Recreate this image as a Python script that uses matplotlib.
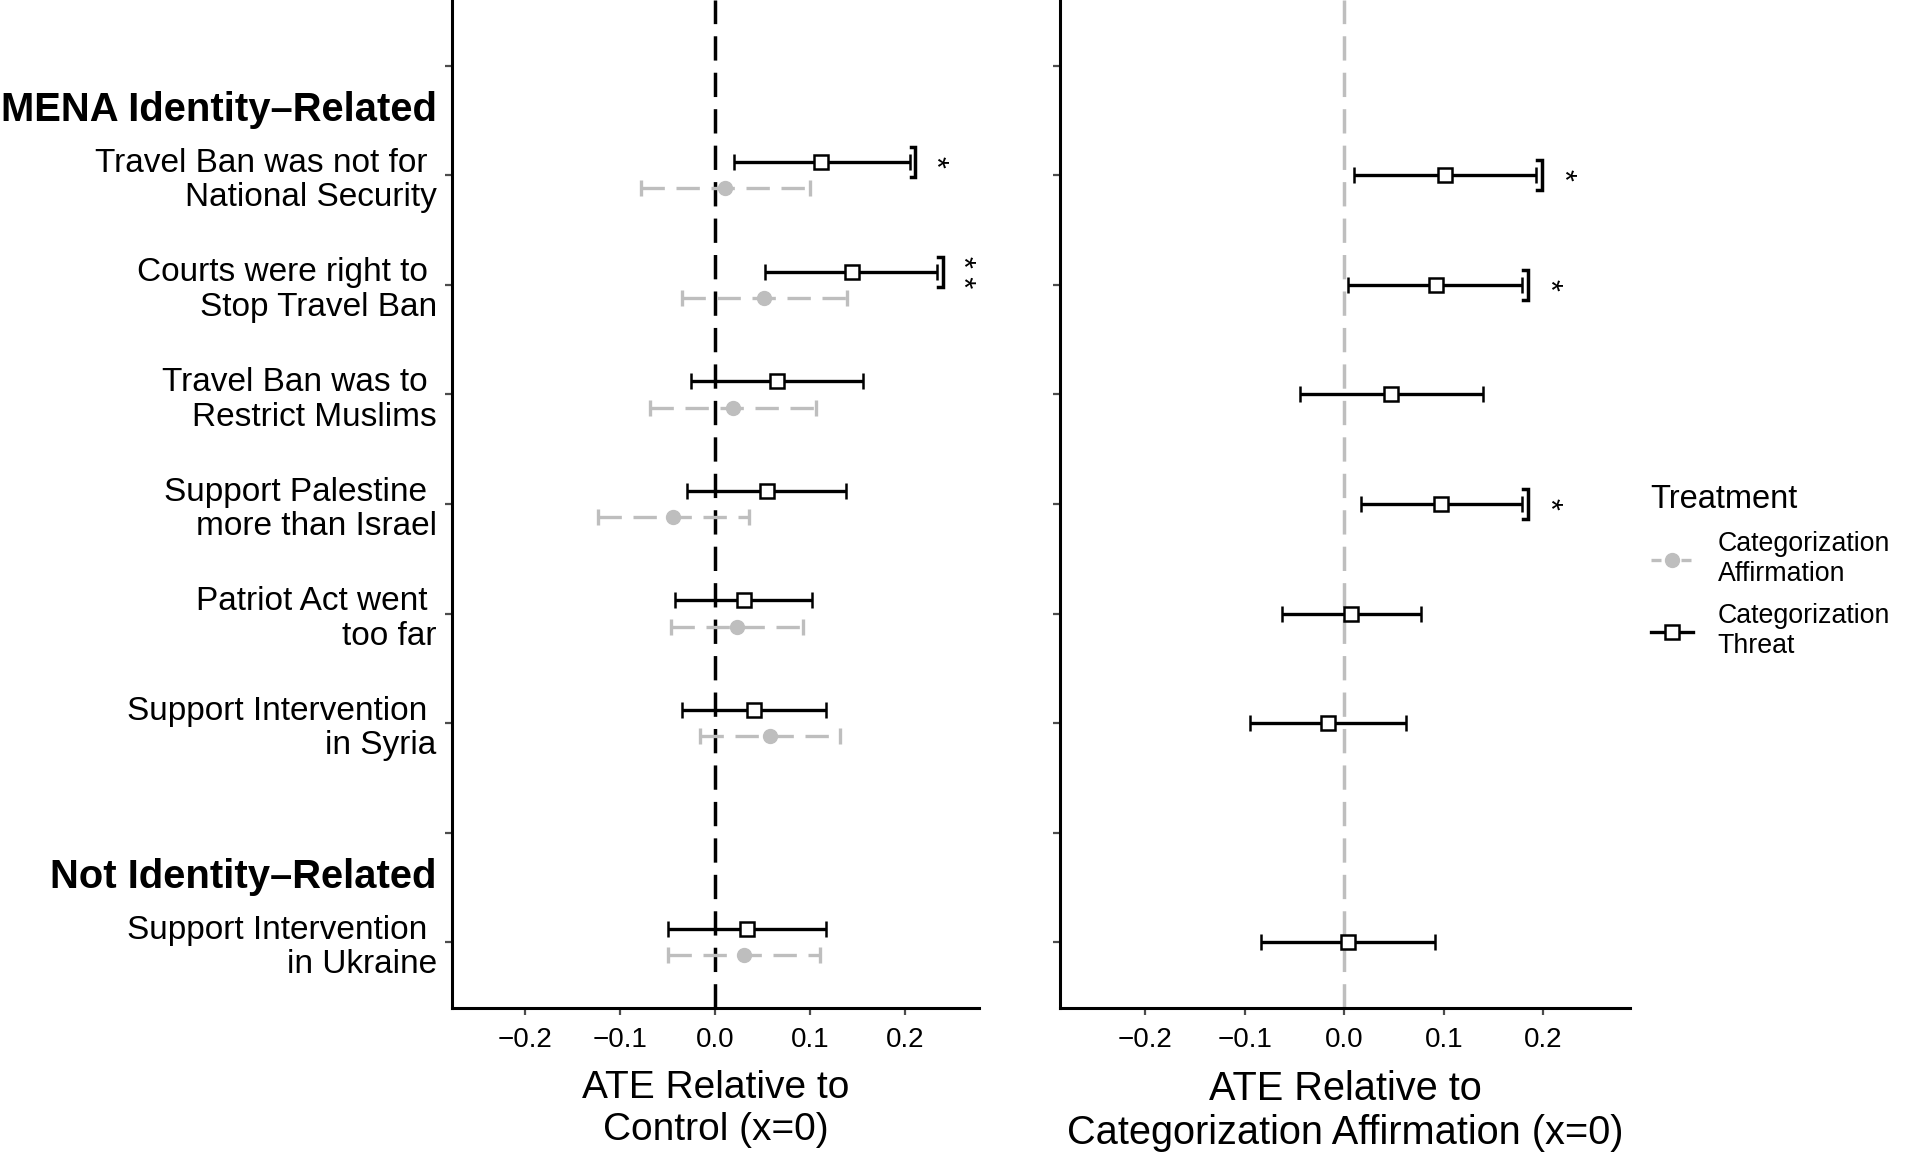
import matplotlib.pyplot as plt
from matplotlib.lines import Line2D

plt.rcParams['font.family'] = ['Liberation Sans', 'DejaVu Sans']

OUTPUT = 'out.png'

outcomes = [
    'Travel Ban was not for \nNational Security',
    'Courts were right to \nStop Travel Ban',
    'Travel Ban was to \nRestrict Muslims',
    'Support Palestine \nmore than Israel',
    'Patriot Act went \ntoo far',
    'Support Intervention \nin Syria',
    'Support Intervention \nin Ukraine',
]
outcome_pos = [8, 7, 6, 5, 4, 3, 1]
headers = ['MENA Identity\u2013Related', 'Not Identity\u2013Related']
header_pos = [9, 2]

# ATE relative to control
affirm_est = [0.011, 0.052, 0.019, -0.044, 0.023, 0.058, 0.030]
affirm_lo = [-0.078, -0.035, -0.068, -0.123, -0.046, -0.016, -0.050]
affirm_hi = [0.100, 0.139, 0.106, 0.036, 0.093, 0.132, 0.111]
threat_est = [0.112, 0.144, 0.065, 0.055, 0.030, 0.041, 0.034]
threat_lo = [0.020, 0.053, -0.025, -0.029, -0.042, -0.035, -0.049]
threat_hi = [0.205, 0.234, 0.156, 0.138, 0.102, 0.117, 0.117]
threat_sig = ['*', '**', '', '', '', '', '']

# threat relative to affirmation
diff_est = [0.101, 0.092, 0.047, 0.097, 0.007, -0.017, 0.004]
diff_lo = [0.010, 0.004, -0.045, 0.017, -0.063, -0.095, -0.084]
diff_hi = [0.193, 0.179, 0.139, 0.179, 0.077, 0.062, 0.091]
diff_sig = ['*', '*', '', '*', '', '', '']

xticks = [-0.2, -0.1, 0.0, 0.1, 0.2]
xtick_labels = ['\u22120.2', '\u22120.1', '0.0', '0.1', '0.2']

GREY = '#bebebe'
DASH = (0, (7, 3.5))
LW = 2.4


def draw_bars(ax, est, lo, hi, y, color, dashed, marker):
    xerr = [[e - l for e, l in zip(est, lo)], [h - e for e, h in zip(est, hi)]]
    if marker == 's':
        mkw = dict(marker='s', markersize=9.5, markerfacecolor='white',
                   markeredgecolor=color, markeredgewidth=1.8)
    else:
        mkw = dict(marker='o', markersize=10, markerfacecolor=color,
                   markeredgecolor=color)
    _, caps, bars = ax.errorbar(est, y, xerr=xerr, linestyle='none',
                                ecolor=color, elinewidth=LW, capsize=6,
                                capthick=LW, zorder=3, **mkw)
    if dashed:
        bars[0].set_linestyle(DASH)


def draw_sig(ax, hi, y, sig):
    for h, yy, s in zip(hi, y, sig):
        if not s:
            continue
        bx = h + 0.006
        ax.plot([bx - 0.005, bx, bx, bx - 0.005],
                [yy - 0.137, yy - 0.137, yy + 0.137, yy + 0.137],
                color='black', lw=2.5, solid_joinstyle='miter', zorder=3)
        ax.text(h + 0.025, yy, ' '.join(s), rotation=270, ha='center',
                va='center', fontsize=22)


def style_axes(ax, xlim):
    ax.set_xlim(*xlim)
    ax.set_ylim(0.4, 9.6)
    for side in ('top', 'right'):
        ax.spines[side].set_visible(False)
    for side in ('left', 'bottom'):
        ax.spines[side].set_linewidth(2.2)
    ax.set_xticks(xticks)
    ax.set_xticklabels(xtick_labels)
    ax.set_yticks(range(1, 10))
    ax.tick_params(axis='both', color='#4d4d4d', width=1.6, length=5,
                   labelsize=20)
    ax.tick_params(axis='x', pad=9)


fig = plt.figure(figsize=(19.07, 11.62), dpi=100)
ax1 = fig.add_axes([0.237, 0.1325, 0.2764, 0.8675])
ax2 = fig.add_axes([0.5558, 0.1325, 0.2989, 0.8675])

# left panel
style_axes(ax1, (-0.277, 0.278))
ax1.axvline(0, color='black', lw=2.5, linestyle=DASH, zorder=1)
draw_bars(ax1, affirm_est, affirm_lo, affirm_hi,
          [p - 0.12 for p in outcome_pos], GREY, True, 'o')
draw_bars(ax1, threat_est, threat_lo, threat_hi,
          [p + 0.12 for p in outcome_pos], 'black', False, 's')
draw_sig(ax1, threat_hi, [p + 0.12 for p in outcome_pos], threat_sig)

labels = [''] * 9
for name, pos in zip(outcomes, outcome_pos):
    labels[pos - 1] = name
ax1.set_yticklabels(labels, fontsize=24, linespacing=1.15,
                    multialignment='right')
ax1.tick_params(axis='y', pad=6)
for name, pos in zip(headers, header_pos):
    ax1.annotate(name, xy=(0, pos - 0.4), xycoords=('axes fraction', 'data'),
                 xytext=(-11, 0), textcoords='offset points', ha='right',
                 va='center', fontsize=28.8, fontweight='bold')
ax1.set_xlabel('ATE Relative to\nControl (x=0)', fontsize=28,
               linespacing=1.2, labelpad=12)

# right panel
style_axes(ax2, (-0.286, 0.287))
ax2.axvline(0, color=GREY, lw=2.5, linestyle=DASH, zorder=1)
draw_bars(ax2, diff_est, diff_lo, diff_hi, outcome_pos, 'black', False, 's')
draw_sig(ax2, diff_hi, outcome_pos, diff_sig)
ax2.set_yticklabels([])
ax2.set_xlabel('ATE Relative to\nCategorization Affirmation (x=0)',
               fontsize=28.6, linespacing=1.2, labelpad=12)

handles = [
    Line2D([], [], color=GREY, lw=LW, linestyle=(0, (3, 1.5)), marker='o',
           markersize=10),
    Line2D([], [], color='black', lw=LW, marker='s', markersize=9.5,
           markerfacecolor='white', markeredgewidth=1.8),
]
fig.legend(handles, ['Categorization\nAffirmation', 'Categorization\nThreat'],
           title='Treatment', loc='upper left', bbox_to_anchor=(0.8585, 0.595),
           frameon=False, fontsize=19.3, title_fontsize=23.5, alignment='left',
           handlelength=1.6, handletextpad=0.9, labelspacing=0.6, borderpad=0)

fig.savefig(OUTPUT, dpi=100)
